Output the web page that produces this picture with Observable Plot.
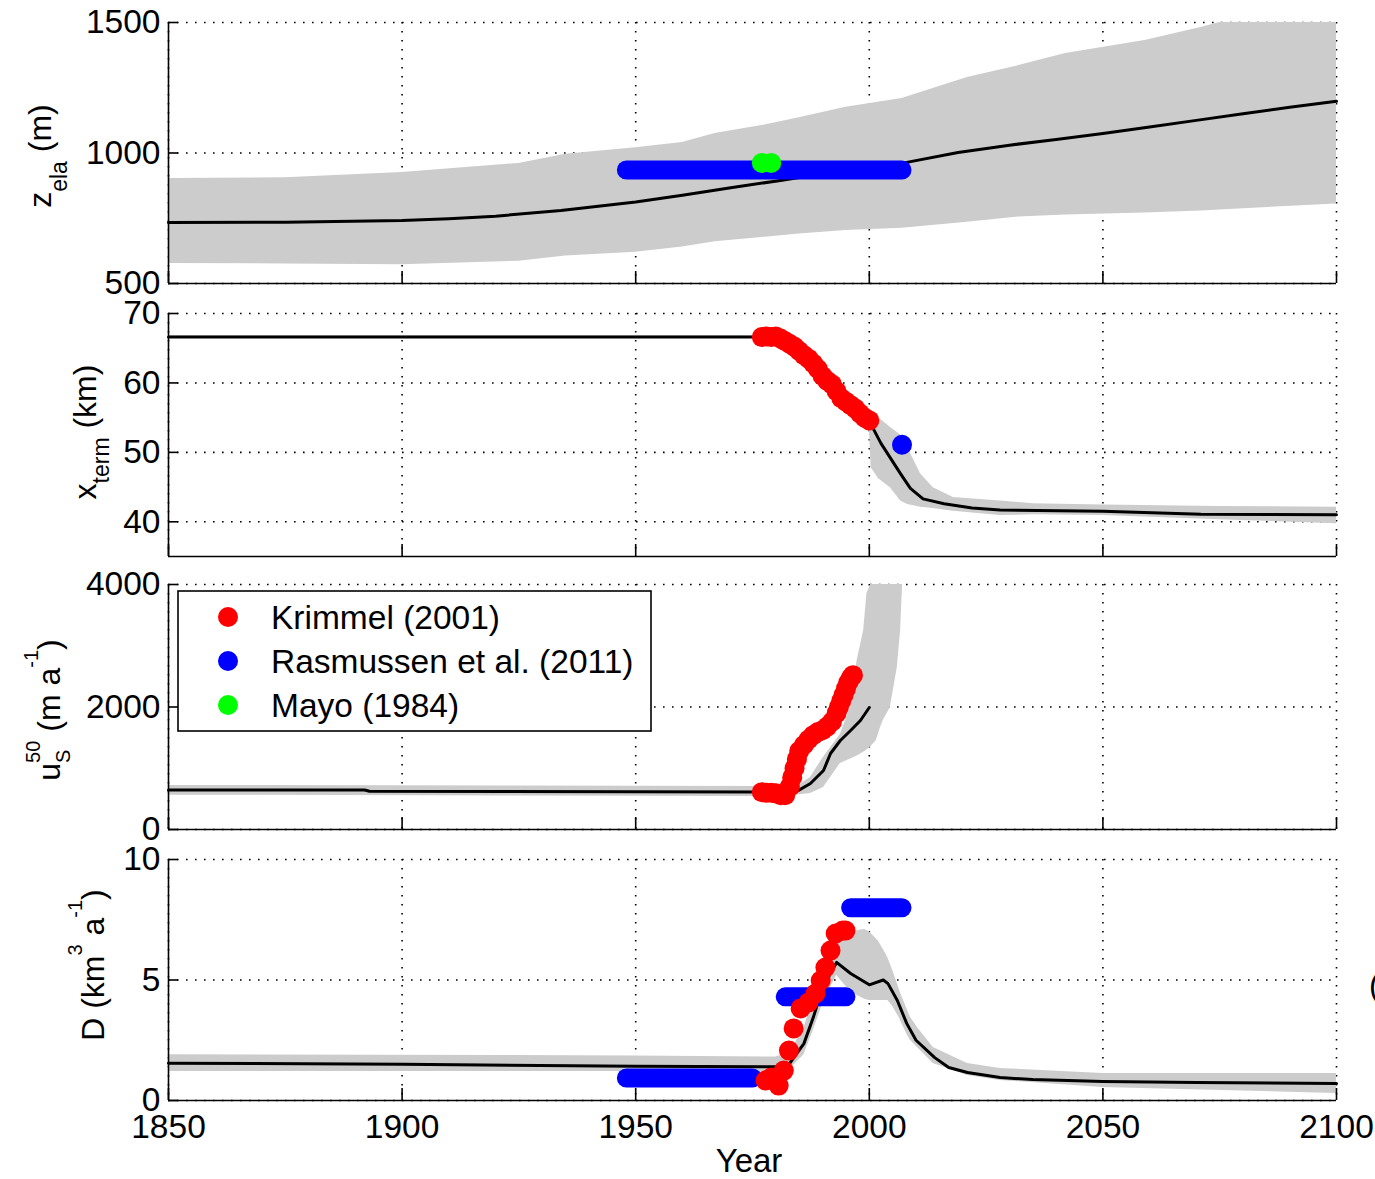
<!DOCTYPE html>
<html><head><meta charset="utf-8">
<script src="https://cdn.jsdelivr.net/npm/d3@7"></script>
<script src="https://cdn.jsdelivr.net/npm/@observablehq/plot@0.6"></script>
<style>
html,body{margin:0;padding:0;background:#fff;}
#chart{position:relative;width:1375px;height:1179px;overflow:hidden;background:#fff;font-family:"Liberation Sans",Arial,sans-serif;}
#chart svg{position:absolute;left:0;}
</style></head><body><div id="chart"></div>
<script>
// ---------- shared ----------
const xTicks = [1850, 1900, 1950, 2000, 2050, 2100];

// ---------- panel 1: z_ela (m) ----------
const zelaTicks = [500, 1000, 1500];
const zelaBandYears = [1850, 1875, 1900, 1925, 1935, 1950, 1960, 1967, 1977, 1985, 1995, 2007, 2021, 2032, 2042, 2059, 2071, 2075, 2100];
const zelaBandHigh  = [902, 905, 925, 960, 995, 1020, 1040, 1075, 1105, 1135, 1175, 1209, 1289, 1335, 1381, 1431, 1481, 1500, 1500];
const zelaBandLow   = [577, 575, 572, 585, 605, 620, 640, 660, 676, 690, 703, 712, 735, 755, 762, 770, 778, 782, 805];
const zelaMedYears = [1850, 1875, 1900, 1910, 1920, 1934, 1950, 1960, 1970, 1981, 1990, 2000, 2008, 2019, 2030, 2040, 2050, 2060, 2070, 2080, 2090, 2100];
const zelaMed      = [734, 735, 741, 748, 758, 780, 812, 838, 866, 895, 920, 945, 964, 1002, 1030, 1052, 1075, 1100, 1125, 1150, 1175, 1198];
const zelaRasStart = [1948], zelaRasEnd = [2007], zelaRas = [935];
const zelaMayoYears = [1977, 1979], zelaMayo = [962, 962];

// ---------- panel 2: x_term (km) ----------
const xtTicks = [40, 50, 60, 70];
const xtBandYears = [1850, 1977, 1985, 1990, 1995, 1999.5, 2000, 2000.4, 2002, 2004.5, 2006.7, 2008.2, 2011, 2013.7, 2018, 2028, 2035, 2050, 2075, 2100];
const xtBandHigh  = [66.8, 66.8, 65.5, 62.3, 58.4, 55.5, 55.2, 55.1, 55.0, 53.6, 52.5, 50.7, 46.9, 44.9, 43.5, 43.0, 42.6, 42.4, 42.2, 42.1];
const xtBandLow   = [66.4, 66.4, 64.8, 61.5, 57.6, 54.8, 53.6, 47.8, 46.2, 44.9, 43.0, 42.5, 42.1, 41.9, 41.5, 40.9, 41.0, 40.9, 40.3, 39.7];
const xtMedYears = [1850, 1977, 1980, 1983, 1986, 1989, 1992, 1995, 1998, 2000, 2002.5, 2004.5, 2006.7, 2008.8, 2011.5, 2016, 2022, 2028, 2050, 2071, 2100];
const xtMed      = [66.6, 66.6, 66.5, 66.0, 64.6, 62.5, 59.8, 57.6, 56.0, 54.5, 51.3, 49.2, 46.9, 44.8, 43.3, 42.6, 42.0, 41.7, 41.5, 41.1, 41.0];
const xtKrimYears = [1977, 1978, 1979, 1980, 1981, 1982, 1983, 1984, 1985, 1986, 1987, 1988, 1989, 1990, 1991, 1992, 1993, 1994, 1995, 1996, 1997, 1998, 1999, 2000];
const xtKrim      = [66.6, 66.7, 66.6, 66.7, 66.4, 66.0, 65.6, 65.2, 64.6, 64.0, 63.5, 62.8, 62.0, 61.0, 60.3, 59.8, 58.8, 57.8, 57.3, 56.8, 56.3, 55.6, 55.0, 54.6];
const xtRasYears = [2007], xtRas = [51.1];

// ---------- panel 3: u_S^50 (m a^-1) ----------
const usTicks = [0, 2000, 4000];
const usBandYears = [1850, 1982, 1984.2, 1987.4, 1990.2, 1993.8, 1996, 1997.4, 1998.8, 1999.5, 2000.3, 2001.5, 2002.4, 2003, 2004.5, 2006, 2006.7, 2007.1];
const usBandHigh  = [720, 700, 680, 850, 1180, 1550, 2000, 2760, 3250, 3854, 4000, 4000, 4000, 4000, 4000, 4000, 4000, 4000];
const usBandLow   = [560, 540, 560, 588, 686, 1078, 1150, 1200, 1260, 1300, 1350, 1450, 1666, 1780, 1992, 2645, 3250, 3950];
const usMedYears = [1850, 1892, 1893, 1984.2, 1987.4, 1990.2, 1991.7, 1993.8, 1996, 1998.1, 2000];
const usMed      = [645, 645, 625, 610, 751, 963, 1241, 1453, 1617, 1780, 1992];
const usKrimYears = [1977, 1978, 1979, 1980, 1981, 1982, 1983, 1983.5, 1984, 1984.5, 1985, 1986, 1987, 1988, 1989, 1990, 1991, 1992, 1993, 1993.5, 1994, 1994.5, 1995, 1995.5, 1996, 1996.5];
const usKrim      = [610, 600, 600, 590, 560, 560, 700, 850, 1000, 1150, 1280, 1380, 1470, 1540, 1590, 1620, 1680, 1760, 1900, 2000, 2100, 2200, 2300, 2400, 2470, 2520];

// ---------- panel 4: D (km^3 a^-1) ----------
const dTicks = [0, 5, 10];
const dBandYears = [1850, 1950, 1980, 1983, 1986, 1988, 1990, 1993, 1996, 1999, 2000, 2001, 2002, 2003.5, 2004, 2005, 2006.5, 2006.7, 2008.2, 2008.8, 2010.3, 2013.7, 2021, 2028, 2050, 2100];
const dBandHigh  = [1.9, 1.85, 1.8, 2.0, 3.0, 4.2, 5.4, 6.5, 7.0, 7.1, 7.0, 6.8, 6.6, 6.1, 5.9, 5.4, 4.56, 4.45, 3.73, 3.45, 3.03, 2.2, 1.54, 1.33, 1.12, 1.12];
const dBandLow   = [1.2, 1.2, 1.2, 1.3, 1.9, 2.9, 4.0, 5.2, 4.5, 4.2, 4.15, 4.15, 4.15, 4.15, 4.15, 3.9, 3.4, 3.3, 2.7, 2.5, 2.2, 1.54, 1.04, 0.83, 0.54, 0.29];
const dMedYears = [1850, 1900, 1950, 1980, 1983, 1986, 1988, 1990, 1993, 1996, 2000, 2003, 2004, 2006, 2008, 2010, 2014, 2017, 2021, 2028, 2035, 2050, 2070, 2100];
const dMed      = [1.55, 1.5, 1.42, 1.4, 1.55, 2.36, 3.44, 4.69, 5.73, 5.27, 4.8, 5.0, 4.85, 4.15, 3.2, 2.5, 1.78, 1.37, 1.16, 0.95, 0.87, 0.79, 0.75, 0.71];
const dKrimYears = [1977.8, 1979, 1980.6, 1981.7, 1982.8, 1983.8, 1985.3, 1987, 1988.5, 1989.6, 1990.6, 1991.7, 1992.8, 1994.3, 1994.9];
const dKrim      = [0.83, 0.95, 0.62, 1.24, 2.07, 2.99, 3.82, 4.07, 4.44, 4.98, 5.52, 6.22, 6.93, 7.05, 7.05];
const dRasStart = [1948, 1982, 1996], dRasEnd = [1975, 1995, 2007], dRas = [0.93, 4.3, 8.0];

// ---------- legend ----------
const legendLabels = ["Krimmel (2001)", "Rasmussen et al. (2011)", "Mayo (1984)"];
const legendColors = ["#ff0000", "#0000ff", "#00ff00"];

// ---------- helpers ----------
const pts = (xs, ys) => xs.map((x, i) => ({x, y: ys[i]}));
const band = (xs, lo, hi) => xs.map((x, i) => ({x, lo: lo[i], hi: hi[i]}));
const segs = (a, b, v) => a.map((x1, i) => ({x1, x2: b[i], y: v[i]}));

const W = 1375, ML = 168, MR = 39, PW = W - ML - MR;
const FONT = "Liberation Sans, Arial, sans-serif";
const FS = 33.5;
const GRAY = "#cccccc", RED = "#ff0000", BLUE = "#0000ff", GREEN = "#00ff00";
const chart = document.getElementById("chart");
const fmt = d => String(d);

function panel({top, bottom, domain, ticks, marks, xlabels}) {
  const mt = 25, mb = xlabels ? 80 : 25, h = bottom - top;
  const svg = Plot.plot({
    width: W, height: h + mt + mb,
    marginLeft: ML, marginRight: MR, marginTop: mt, marginBottom: mb,
    style: {background: "transparent", overflow: "visible", fontFamily: FONT, color: "#000"},
    x: {domain: [1850, 2100], axis: null},
    y: {domain, axis: null},
    marks: [
      Plot.gridX(xTicks, {stroke: "#000", strokeOpacity: 1, strokeWidth: 1.6, strokeDasharray: "1.6,7.4"}),
      Plot.gridY(ticks, {stroke: "#000", strokeOpacity: 1, strokeWidth: 1.6, strokeDasharray: "1.6,7.4"}),
      ...marks,
      Plot.ruleX([1850], {stroke: "#000", strokeWidth: 1.6}),
      Plot.ruleY([domain[0]], {stroke: "#000", strokeWidth: 1.6}),
      Plot.tickY(ticks, {stroke: "#000", strokeWidth: 1.6, insetRight: PW - 10}),
      Plot.tickX(xTicks, {stroke: "#000", strokeWidth: 1.6, insetTop: h - 12}),
      Plot.axisY(ticks, {anchor: "left", tickSize: 0, tickPadding: 8, fontSize: FS, label: null, fill: "#000", tickFormat: fmt}),
      xlabels ? Plot.axisX(xTicks, {anchor: "bottom", tickSize: 0, tickPadding: 14, fontSize: FS, label: null, fill: "#000", tickFormat: fmt}) : null
    ]
  });
  svg.style.top = (top - mt) + "px";
  chart.appendChild(svg);
  return svg;
}

// Panel 1
panel({top: 22, bottom: 283, domain: [500, 1500], ticks: zelaTicks, marks: [
  Plot.areaY(band(zelaBandYears, zelaBandLow, zelaBandHigh), {x: "x", y1: "lo", y2: "hi", fill: GRAY, clip: true}),
  Plot.line(pts(zelaMedYears, zelaMed), {x: "x", y: "y", stroke: "#000", strokeWidth: 3}),
  Plot.link(segs(zelaRasStart, zelaRasEnd, zelaRas), {x1: "x1", x2: "x2", y1: "y", y2: "y", stroke: BLUE, strokeWidth: 19, strokeLinecap: "round"}),
  Plot.dot(pts(zelaMayoYears, zelaMayo), {x: "x", y: "y", r: 10, fill: GREEN})
]});

// Panel 2
panel({top: 313, bottom: 556, domain: [35, 70], ticks: xtTicks, marks: [
  Plot.areaY(band(xtBandYears, xtBandLow, xtBandHigh), {x: "x", y1: "lo", y2: "hi", fill: GRAY, clip: true}),
  Plot.line(pts(xtMedYears, xtMed), {x: "x", y: "y", stroke: "#000", strokeWidth: 3}),
  Plot.dot(pts(xtKrimYears, xtKrim), {x: "x", y: "y", r: 10, fill: RED}),
  Plot.dot(pts(xtRasYears, xtRas), {x: "x", y: "y", r: 10, fill: BLUE})
]});

// Panel 3
panel({top: 584, bottom: 829, domain: [0, 4000], ticks: usTicks, marks: [
  Plot.areaY(band(usBandYears, usBandLow, usBandHigh), {x: "x", y1: "lo", y2: "hi", fill: GRAY, clip: true}),
  Plot.line(pts(usMedYears, usMed), {x: "x", y: "y", stroke: "#000", strokeWidth: 3}),
  Plot.dot(pts(usKrimYears, usKrim), {x: "x", y: "y", r: 10, fill: RED})
]});

// Panel 4
panel({top: 859, bottom: 1100, domain: [0, 10], ticks: dTicks, xlabels: true, marks: [
  Plot.areaY(band(dBandYears, dBandLow, dBandHigh), {x: "x", y1: "lo", y2: "hi", fill: GRAY, clip: true}),
  Plot.line(pts(dMedYears, dMed), {x: "x", y: "y", stroke: "#000", strokeWidth: 3}),
  Plot.link(segs(dRasStart, dRasEnd, dRas), {x1: "x1", x2: "x2", y1: "y", y2: "y", stroke: BLUE, strokeWidth: 19, strokeLinecap: "round"}),
  Plot.dot(pts(dKrimYears, dKrim), {x: "x", y: "y", r: 10, fill: RED})
]});

// ---------- overlay: axis titles, legend ----------
const ov = d3.select(chart).append("svg")
  .attr("width", W).attr("height", 1179)
  .style("top", "0px").style("font-family", FONT).style("overflow", "visible");

function ylabel(x, y, parts) {
  const t = ov.append("text").attr("transform", `translate(${x},${y}) rotate(-90)`)
    .attr("text-anchor", "middle").attr("fill", "#000");
  for (const [s, dy, fs, dx] of parts) {
    const ts = t.append("tspan").text(s).attr("font-size", fs);
    if (dy) ts.attr("dy", dy);
    if (dx) ts.attr("dx", dx);
  }
}
ylabel(51, 156, [["z", 0, 32], ["ela", 16, 23], [" (m)", -16, 32]]);
ylabel(96, 432, [["x", 0, 32], ["term", 13, 23], [" (km)", -13, 32]]);
ylabel(60, 710, [["u", 0, 32], ["S", 10, 20], ["50", -30, 20, -13.3], [" (m a", 20, 32], ["-1", -22, 20], [")", 22, 32]]);
ylabel(104, 965, [["D (km", 0, 32], ["3", -22, 20], [" a", 22, 32], ["-1", -22, 20], [")", 22, 32]]);

ov.append("text").attr("x", 749).attr("y", 1172).attr("text-anchor", "middle")
  .attr("font-size", 33).attr("fill", "#000").text("Year");
ov.append("text").attr("x", 1369).attr("y", 996).attr("font-size", 32).attr("fill", "#000").text("(");

const lg = ov.append("g");
lg.append("rect").attr("x", 178).attr("y", 591).attr("width", 473).attr("height", 140)
  .attr("fill", "#fff").attr("stroke", "#000").attr("stroke-width", 1.6);
legendLabels.forEach((lab, i) => {
  const cy = 617 + i * 44;
  lg.append("circle").attr("cx", 228).attr("cy", cy).attr("r", 10).attr("fill", legendColors[i]);
  lg.append("text").attr("x", 271).attr("y", cy + 12).attr("font-size", FS).attr("fill", "#000").text(lab);
});
</script></body></html>
